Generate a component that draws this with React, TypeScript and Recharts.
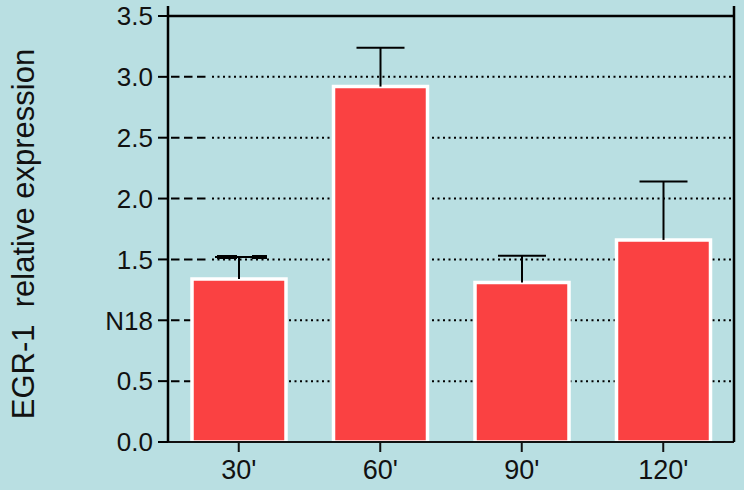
import { BarChart, Bar, XAxis, YAxis, CartesianGrid, ReferenceLine, Label } from 'recharts'

const categories = ["30'", "60'", "90'", "120'"]
const means = [1.34, 2.92, 1.31, 1.66]
const errors = [0.18, 0.32, 0.22, 0.48]
const thickCap = [true, false, false, false]
const yTicks = [0, 0.5, 1, 1.5, 2, 2.5, 3, 3.5]
const yTickLabels: Record<number, string> = { 0: '0.0', 0.5: '0.5', 1: 'N18', 1.5: '1.5', 2: '2.0', 2.5: '2.5', 3: '3.0', 3.5: '3.5' }

const data = categories.map((name, i) => ({
  name,
  mean: means[i],
  err: errors[i],
  thick: thickCap[i]
}))

const FONT = '"Liberation Sans", Arial, sans-serif'

// dashed stub next to the axis, then a dotted run to the right edge
const gridLine = (props: any) => {
  const { x1, x2, y1, key } = props
  if (y1 < 20) return <g key={key} />
  return (
    <g key={key}>
      <line x1={x1 + 3} x2={x1 + 39} y1={y1} y2={y1} stroke="#000" strokeWidth={2} strokeDasharray="8.5 4.5" />
      <line x1={x1 + 44} x2={x2} y1={y1} y2={y1} stroke="#000" strokeWidth={2} strokeDasharray="2 3.5" />
    </g>
  )
}

const ErrShape = (props: any) => {
  const { x, y, width, height, payload } = props
  const cx = x + width / 2
  return (
    <g>
      <line x1={cx} x2={cx} y1={y + height} y2={y} stroke="#000" strokeWidth={2} />
      <line x1={cx - 24} x2={cx + 24} y1={y} y2={y} stroke="#000" strokeWidth={2} />
      {payload.thick && (
        <g>
          <line x1={cx - 22} x2={cx - 2} y1={y} y2={y} stroke="#000" strokeWidth={4} />
          <line x1={cx + 13} x2={cx + 28} y1={y} y2={y} stroke="#000" strokeWidth={4} />
        </g>
      )}
    </g>
  )
}

const YLabel = (props: any) => {
  const vb = props.viewBox || {}
  const cx = 23
  const cy = vb.y + vb.height / 2 + 10
  return (
    <text
      x={cx}
      y={cy}
      transform={`rotate(-90 ${cx} ${cy})`}
      textAnchor="middle"
      dominantBaseline="central"
      fontSize={31}
      fontFamily={FONT}
      fill="#111"
    >
      {'EGR-1\u00A0\u00A0relative expression'}
    </text>
  )
}

export default function App() {
  return (
    <div style={{ position: 'absolute', left: 0, top: 0, width: 744, height: 490, background: '#b9dfe2' }}>
      <BarChart
        width={744}
        height={490}
        data={data}
        margin={{ top: 6, right: 0, bottom: 0, left: 0 }}
        barSize={94}
      >
        <CartesianGrid vertical={false} horizontal={gridLine} />
        <XAxis
          dataKey="name"
          height={48}
          interval={0}
          tickSize={10}
          tickMargin={8}
          axisLine={{ stroke: '#111', strokeWidth: 2 }}
          tickLine={{ stroke: '#111', strokeWidth: 2 }}
          tick={{ fontSize: 27, fill: '#111', fontFamily: FONT }}
        />
        <YAxis
          width={168}
          domain={[0, 3.582]}
          ticks={yTicks}
          allowDataOverflow
          tickSize={10}
          tickMargin={5}
          tickFormatter={(v: number) => yTickLabels[v] ?? String(v)}
          axisLine={{ stroke: '#000', strokeWidth: 2.5 }}
          tickLine={{ stroke: '#000', strokeWidth: 2 }}
          tick={{ fontSize: 26, fill: '#111', fontFamily: FONT }}
        >
          <Label content={YLabel} />
        </YAxis>
        <YAxis
          yAxisId="r"
          orientation="right"
          width={10}
          domain={[0, 3.582]}
          ticks={yTicks}
          allowDataOverflow
          tick={false}
          tickSize={10}
          axisLine={{ stroke: '#000', strokeWidth: 2.5 }}
          tickLine={{ stroke: '#000', strokeWidth: 2 }}
        />
        <ReferenceLine y={3.5} stroke="#000" strokeWidth={2.5} />
        <Bar dataKey="mean" stackId="s" fill="#fa4142" stroke="#fff" strokeWidth={3.5} isAnimationActive={false} />
        <Bar dataKey="err" stackId="s" shape={ErrShape} isAnimationActive={false} />
      </BarChart>
    </div>
  )
}
